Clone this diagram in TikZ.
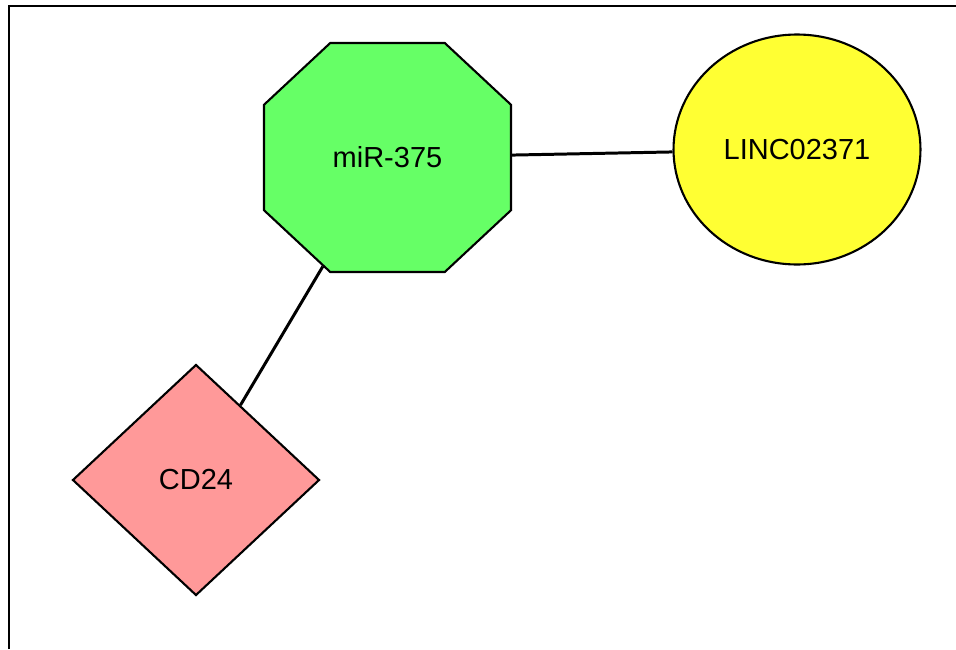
\documentclass[tikz,border=0pt]{standalone}
\usepackage{fontspec}
\setmainfont{Liberation Sans}
\usetikzlibrary{shapes.geometric,shapes.misc}
\definecolor{mirgreen}{RGB}{102,255,102}
\definecolor{lincyellow}{RGB}{255,255,51}
\definecolor{cdpink}{RGB}{255,153,153}

\begin{document}
\begin{tikzpicture}[x=0.02cm,y=-0.02cm,
  every node/.style={draw,line width=1.2pt,inner sep=0pt,minimum width=4.94cm,minimum height=4.6cm,font=\fontsize{16.5}{20}\selectfont}]
  \useasboundingbox (0,0) rectangle (956,649);
  \draw[line width=1.3pt] (9,649) -- (9,6) -- (956,6);
  \node (mir) [chamfered rectangle,chamfered rectangle angle=47,chamfered rectangle xsep=1.45cm,chamfered rectangle ysep=1.34cm,minimum height=4.58cm,fill=mirgreen] at (387.5,157.5) {miR-375};
  \node (linc) [ellipse,fill=lincyellow] at (797,149.5) {LINC02371};
  \node (cd) [diamond,fill=cdpink,minimum height=4.62cm] at (196,480) {CD24};
  \path[line width=1.7pt]
  (mir) edge (linc)
  edge (cd);
\end{tikzpicture}
\end{document}
